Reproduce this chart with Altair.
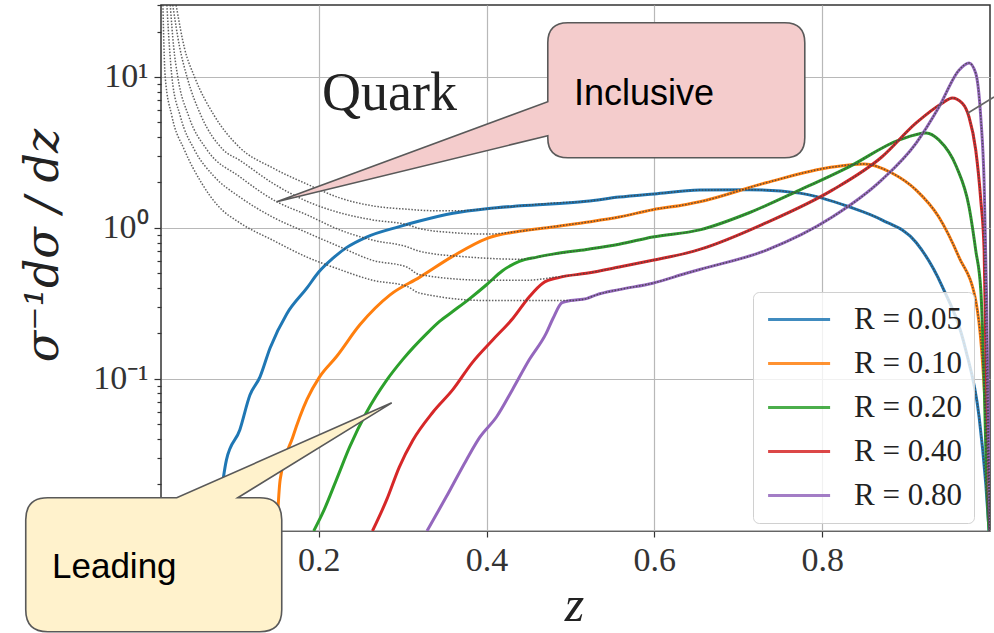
import altair as alt
import pandas as pd

SERIES = ["R = 0.05", "R = 0.10", "R = 0.20", "R = 0.40", "R = 0.80"]
COLORS = ["#1f77b4", "#ff7f0e", "#2ca02c", "#d62728", "#9467bd"]

# ---- leading subjet curves (coloured) ----
Z_LEAD_005 = [0.080, 0.090, 0.106, 0.118, 0.130, 0.142, 0.162, 0.186, 0.200, 0.217, 0.233, 0.257, 0.296,
              0.320, 0.360, 0.400, 0.440, 0.519, 0.558, 0.600, 0.654, 0.713, 0.773, 0.832, 0.871, 0.912,
              0.943, 0.971, 0.987, 0.995, 1.000]
V_LEAD_005 = [0.012, 0.029, 0.046, 0.078, 0.103, 0.16, 0.27, 0.40, 0.51, 0.63, 0.74, 0.87, 1.02,
              1.11, 1.25, 1.34, 1.40, 1.50, 1.60, 1.68, 1.78, 1.79, 1.70, 1.38, 1.13, 0.80,
              0.41, 0.156, 0.056, 0.020, 0.008]

Z_LEAD_010 = [0.150, 0.154, 0.169, 0.186, 0.201, 0.221, 0.249, 0.285, 0.320, 0.360, 0.400, 0.439, 0.479,
              0.519, 0.558, 0.598, 0.638, 0.654, 0.733, 0.812, 0.850, 0.883, 0.912, 0.939, 0.963, 0.983,
              0.990, 0.995, 1.000]
V_LEAD_010 = [0.0098, 0.0214, 0.041, 0.073, 0.103, 0.14, 0.228, 0.36, 0.47, 0.65, 0.85, 0.95, 1.015,
              1.09, 1.18, 1.32, 1.43, 1.49, 1.99, 2.53, 2.65, 2.31, 1.78, 1.18, 0.64, 0.33,
              0.156, 0.056, 0.012]

Z_LEAD_020 = [0.194, 0.205, 0.221, 0.237, 0.257, 0.281, 0.300, 0.329, 0.344, 0.360, 0.380, 0.400, 0.419,
              0.439, 0.460, 0.479, 0.519, 0.558, 0.598, 0.654, 0.713, 0.773, 0.832, 0.892, 0.924, 0.939,
              0.960, 0.975, 0.983, 0.989, 0.993, 0.996, 1.000]
V_LEAD_020 = [0.0098, 0.013, 0.0214, 0.0355, 0.060, 0.098, 0.134, 0.20, 0.24, 0.28, 0.34, 0.42, 0.52,
              0.60, 0.64, 0.67, 0.72, 0.78, 0.87, 0.97, 1.26, 1.78, 2.54, 3.83, 4.26, 3.83,
              2.54, 1.38, 0.71, 0.39, 0.098, 0.021, 0.008]

Z_LEAD_040 = [0.264, 0.281, 0.296, 0.312, 0.336, 0.360, 0.383, 0.407, 0.431, 0.451, 0.467, 0.487, 0.519,
              0.558, 0.598, 0.638, 0.654, 0.733, 0.812, 0.871, 0.912, 0.943, 0.955, 0.967, 0.975, 0.983,
              0.989, 0.993, 0.995, 0.998, 1.000]
V_LEAD_040 = [0.0098, 0.0158, 0.026, 0.039, 0.060, 0.085, 0.128, 0.18, 0.25, 0.35, 0.43, 0.47, 0.50,
              0.55, 0.61, 0.68, 0.72, 1.08, 1.78, 2.95, 4.96, 6.7, 7.26, 6.7, 5.43, 3.28,
              1.53, 0.71, 0.156, 0.034, 0.008]

Z_LEAD_080 = [0.329, 0.352, 0.376, 0.392, 0.412, 0.431, 0.451, 0.471, 0.479, 0.490, 0.500, 0.519, 0.531,
              0.558, 0.598, 0.638, 0.654, 0.733, 0.812, 0.871, 0.912, 0.939, 0.963, 0.975, 0.983, 0.989,
              0.993, 0.996, 1.000]
V_LEAD_080 = [0.0098, 0.0165, 0.029, 0.041, 0.056, 0.085, 0.134, 0.20, 0.25, 0.32, 0.33, 0.34, 0.36,
              0.39, 0.43, 0.50, 0.53, 0.71, 1.18, 2.08, 3.65, 6.3, 11.1, 12.4, 10.6, 5.4,
              1.99, 0.33, 0.008]

# ---- inclusive curves (grey dotted), below z = 0.5; above it they equal the leading ones ----
Z_INCL_005 = [0.030, 0.040, 0.052, 0.075, 0.106, 0.145, 0.186, 0.225, 0.264, 0.305, 0.336, 0.370, 0.400, 0.440, 0.480]
V_INCL_005 = [30, 15.5, 10, 5.6, 3.4, 2.5, 1.95, 1.58, 1.40, 1.33, 1.30, 1.30, 1.34, 1.40, 1.46]

Z_INCL_010 = [0.026, 0.034, 0.043, 0.060, 0.086, 0.106, 0.145, 0.186, 0.225, 0.264, 0.305, 0.320, 0.360, 0.400, 0.440, 0.480]
V_INCL_010 = [30, 16, 10, 5.5, 3.3, 2.8, 1.98, 1.5, 1.26, 1.13, 1.05, 0.99, 0.93, 0.91, 0.95, 1.02]

Z_INCL_020 = [0.023, 0.027, 0.032, 0.045, 0.067, 0.106, 0.150, 0.186, 0.225, 0.264, 0.305, 0.320, 0.380, 0.440, 0.480]
V_INCL_020 = [30, 16, 10, 5.5, 3.28, 2.18, 1.49, 1.22, 0.97, 0.83, 0.75, 0.70, 0.64, 0.62, 0.67]

Z_INCL_040 = [0.019, 0.022, 0.025, 0.035, 0.052, 0.075, 0.106, 0.145, 0.186, 0.225, 0.264, 0.305, 0.320, 0.400, 0.450, 0.480]
V_INCL_040 = [30, 16, 10, 5.5, 3.28, 2.2, 1.6, 1.18, 0.93, 0.75, 0.61, 0.55, 0.49, 0.45, 0.45, 0.47]

Z_INCL_080 = [0.0143, 0.0155, 0.017, 0.025, 0.040, 0.060, 0.080, 0.106, 0.145, 0.186, 0.225, 0.264, 0.305, 0.320, 0.400, 0.480]
V_INCL_080 = [30, 16, 10, 5.5, 3.28, 2.0, 1.4, 1.08, 0.83, 0.64, 0.53, 0.45, 0.41, 0.37, 0.33, 0.33]

X_TICKS = [0.2, 0.4, 0.6, 0.8]
Y_TICKS = [round(m * 10 ** e, 6) for e in (-2, -1, 0, 1) for m in range(1, 10) if m * 10 ** e <= 30]

LEAD = [(Z_LEAD_005, V_LEAD_005), (Z_LEAD_010, V_LEAD_010), (Z_LEAD_020, V_LEAD_020),
        (Z_LEAD_040, V_LEAD_040), (Z_LEAD_080, V_LEAD_080)]
INCL = [(Z_INCL_005, V_INCL_005), (Z_INCL_010, V_INCL_010), (Z_INCL_020, V_INCL_020),
        (Z_INCL_040, V_INCL_040), (Z_INCL_080, V_INCL_080)]

lead_rows, incl_rows = [], []
for s, (zs, vs), (zi, vi) in zip(SERIES, LEAD, INCL):
    for i, (z, v) in enumerate(zip(zs, vs)):
        lead_rows.append({"series": s, "z": z, "v": v, "o": i})
    k = 0
    for z, v in zip(zi, vi):
        incl_rows.append({"series": s, "z": z, "v": v, "o": k}); k += 1
    for z, v in zip(zs, vs):
        if z >= 0.5:
            incl_rows.append({"series": s, "z": z, "v": v, "o": k}); k += 1

lead_df = pd.DataFrame(lead_rows)
incl_df = pd.DataFrame(incl_rows)
one = pd.DataFrame({"a": [0]})

SERIF = "Liberation Serif"
DECADE = "abs(log(datum.value)/LN10 - round(log(datum.value)/LN10)) < 0.001"

x_enc = alt.X("z:Q", scale=alt.Scale(domain=[0.012, 1.0], nice=False, zero=False),
              axis=alt.Axis(values=X_TICKS, format=".1f", title="z", labelFont=SERIF, labelFontSize=34,
                            labelColor="#333", labelPadding=6, tickSize=6, tickColor="#333", tickWidth=1.2,
                            domain=False, gridColor="#b8b8b8", gridWidth=1.2,
                            titleFont=SERIF, titleFontStyle="italic", titleFontWeight="normal",
                            titleFontSize=50, titleColor="#222", titleX=413, titleY=89,
                            titleAlign="center", titleBaseline="alphabetic"))
y_enc = alt.Y("v:Q", scale=alt.Scale(type="log", domain=[0.0098, 30], nice=False),
              axis=alt.Axis(values=Y_TICKS,
                            labelExpr=("abs(datum.value-10)<1e-6 ? '10¹' : abs(datum.value-1)<1e-6 ? '10⁰' : "
                                       "abs(datum.value-0.1)<1e-7 ? '10⁻¹' : abs(datum.value-0.01)<1e-8 ? '10⁻²' : ''"),
                            labelFont=SERIF, labelFontSize=34, labelColor="#333", labelPadding=6,
                            tickColor="#333", tickWidth=1.2,
                            tickSize={"condition": {"test": DECADE, "value": 7}, "value": 4},
                            gridOpacity={"condition": {"test": DECADE, "value": 1}, "value": 0},
                            gridColor="#b8b8b8", gridWidth=1.2, domain=False,
                            title="σ⁻¹dσ / dz", titleFont="DejaVu Serif", titleFontStyle="italic",
                            titleFontWeight="normal", titleFontSize=46, titleColor="#222",
                            titleAngle=270, titleX=-104, titleY=240, titleAlign="center",
                            titleBaseline="alphabetic"))

lead = alt.Chart(lead_df).mark_line(strokeWidth=3, interpolate="monotone", clip=True).encode(
    x=x_enc, y=y_enc, order="o:Q",
    color=alt.Color("series:N", scale=alt.Scale(domain=SERIES, range=COLORS),
                    legend=alt.Legend(orient="none", legendX=592, legendY=287, title=None,
                                      symbolType="M-1,0L4,0", symbolSize=615, symbolStrokeWidth=3,
                                      symbolOpacity=0.85, labelFont=SERIF, labelFontSize=31,
                                      labelColor="#222", labelOffset=58, rowPadding=12, padding=12,
                                      fillColor="rgba(255,255,255,0.8)", strokeColor="#d0d0d0",
                                      cornerRadius=6)))

incl = alt.Chart(incl_df).mark_line(strokeWidth=1.5, interpolate="monotone", clip=True,
                                    strokeDash=[1.5, 1.6], color="#444", opacity=0.85).encode(
    x="z:Q", y="v:Q", detail="series:N", order="o:Q")

quark = alt.Chart(one).mark_text(text="Quark", font=SERIF, fontSize=54, color="#222",
                                 align="left", baseline="alphabetic").encode(
    x=alt.value(161), y=alt.value(105))

INCL_PATH = ("M0,0 L271,-100 L271,-159 Q271,-179 291,-179 L508,-179 Q528,-179 528,-159 "
             "L528,-64 Q528,-44 508,-44 L291,-44 Q271,-44 271,-64 L271,-66 Z")
LEAD_PATH = ("M0,0 L-154,95 L-132,95 Q-110,95 -110,117 L-110,207 Q-110,229 -132,229 "
             "L-344,229 Q-366,229 -366,207 L-366,117 Q-366,95 -344,95 L-215,95 Z")

incl_box = alt.Chart(one).mark_point(shape=INCL_PATH, size=4, filled=True, fill="#f4cccc",
                                     stroke="#595959", strokeWidth=1.6, opacity=1).encode(
    x=alt.datum(0.15), y=alt.datum(1.49))
lead_box = alt.Chart(one).mark_point(shape=LEAD_PATH, size=4, filled=True, fill="#fff2cc",
                                     stroke="#595959", strokeWidth=1.6, opacity=1).encode(
    x=alt.datum(0.287), y=alt.datum(0.0693))
incl_txt = alt.Chart(one).mark_text(text="Inclusive", font="Liberation Sans", fontSize=36,
                                    color="#000", align="left", baseline="alphabetic").encode(
    x=alt.value(413), y=alt.value(100))
lead_txt = alt.Chart(one).mark_text(text="Leading", font="Liberation Sans", fontSize=35,
                                    color="#000", align="left", baseline="alphabetic").encode(
    x=alt.value(-109), y=alt.value(573))
pointer = alt.Chart(one).mark_rule(color="#666", strokeWidth=1.6).encode(
    x=alt.value(807), x2=alt.value(833), y=alt.value(108), y2=alt.value(92))

chart = alt.layer(lead, incl, quark, pointer, incl_box, incl_txt, lead_box, lead_txt).properties(
    width=829, height=526,
    padding={"left": 161, "top": 5, "right": 4, "bottom": 102},
    autosize=alt.AutoSizeParams(type="none"),
    background="white",
).configure_view(stroke="#333", strokeWidth=1.5)

chart.save("out.html", embed_options={"renderer": "svg", "actions": False})
